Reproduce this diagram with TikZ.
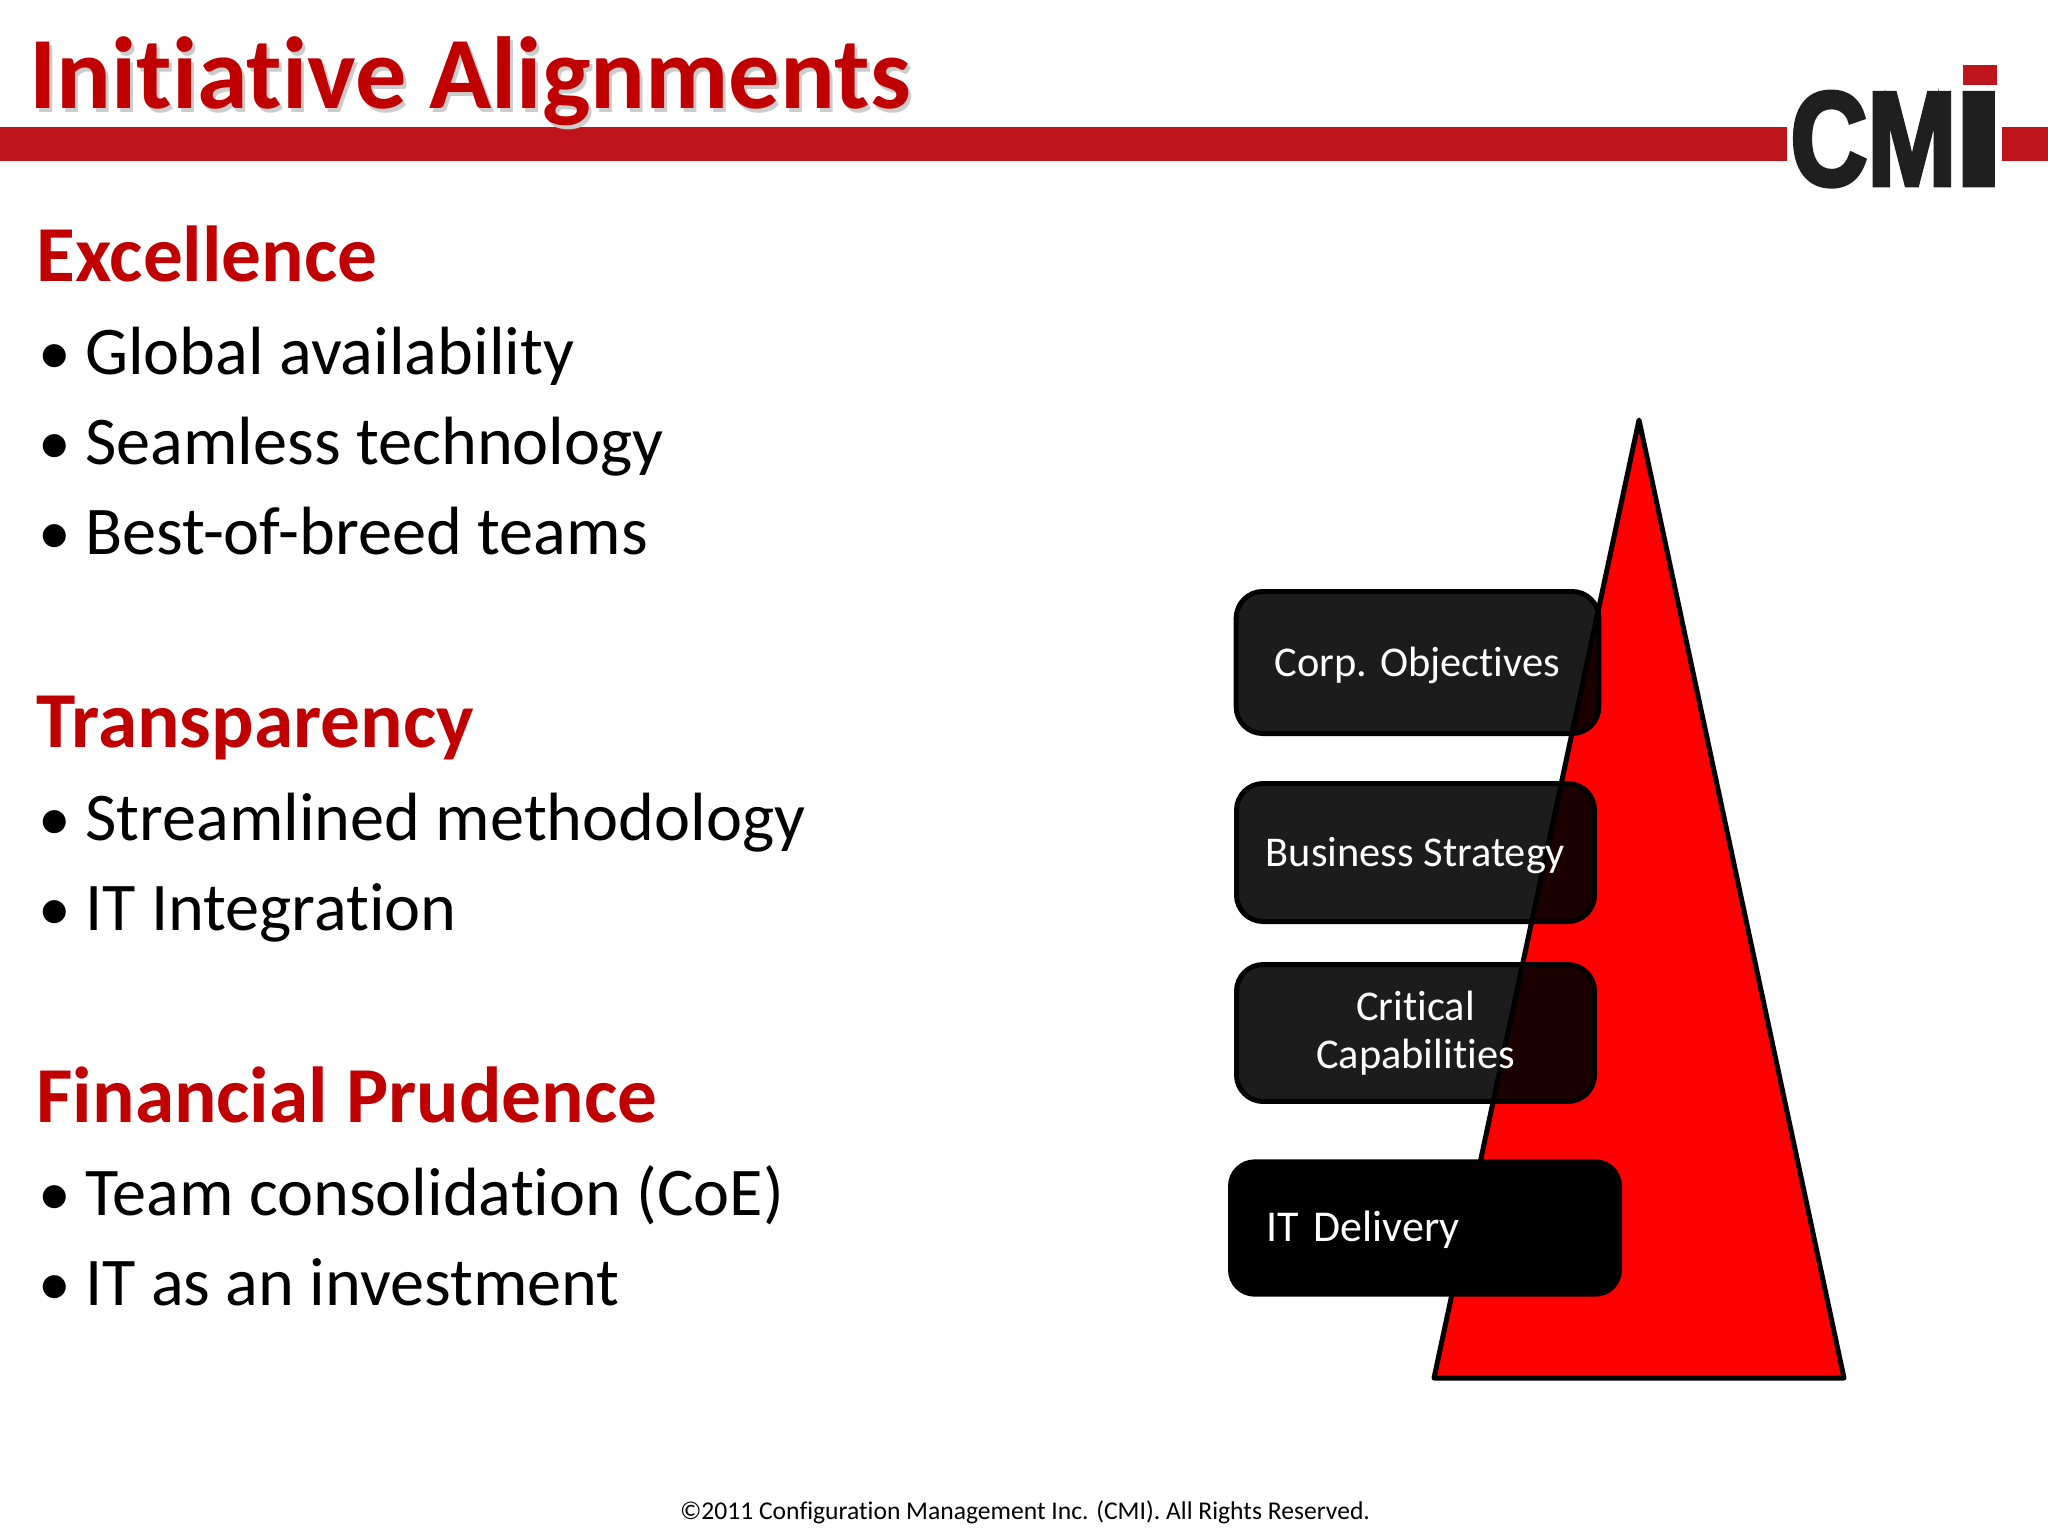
\documentclass[tikz,border=0pt]{standalone}
\usepackage{fontspec}
\setmainfont[Ligatures={NoCommon,NoRare,NoContextual}]{Carlito}
\newfontfamily\logofont[FakeBold=3.5]{Liberation Sans Bold}
\definecolor{cmired}{RGB}{192,0,0}
\definecolor{barred}{RGB}{192,20,28}
\newcommand{\bul}{\makebox[35pt][l]{\fontsize{49}{60}\selectfont •}}
\tikzset{every picture/.style={line width=0.75pt},
  pagetitle/.style={anchor=base west,inner sep=0,font=\fontsize{76.8}{90}\bfseries\selectfont},
  heading/.style={anchor=base west,inner sep=0,text=cmired,font=\fontsize{59.5}{70}\bfseries\selectfont},
  bullet/.style={anchor=base west,inner sep=0,font=\fontsize{51.2}{60}\selectfont},
  stagebox/.style={draw=black,line width=3.75pt,fill=black,fill opacity=0.89,text opacity=1,text=white,rounded corners=20pt,
    inner sep=0,align=center,font=\fontsize{31.8}{36}\selectfont},
  oneline/.style={text height=27pt},
  logotext/.style={anchor=base west,inner sep=0,text=black!88,font=\fontsize{100}{100}\logofont},
}
\begin{document}
\begin{tikzpicture}[x=0.75pt,y=0.75pt,yscale=-1,xscale=1]
\useasboundingbox (0,0) rectangle (2048,1536);

%Shape: Bar
\fill [barred] (0,127) rectangle (1787,161);
\fill [barred] (2002,127) rectangle (2048,161);

% Text Node
\node [pagetitle,text=black!20] (titleshadow) at (31.5,112) {Initiative Alignments};
\node [pagetitle,text=cmired] (title) at (28.5,108) {Initiative Alignments};

% Logo
\node [logotext,xscale=0.8] (logocm) at (1790,185) {CM};
\node [logotext,xscale=1.35] (logoi) at (1953,185) {I};
\fill [barred] (1963,65) rectangle (1997,85);

% Text Node
\node [heading] (excellence) at (36,281) {Excellence};
\node [bullet] (global) at (38,374) {\bul Global availability};
\node [bullet] (seamless) at (38,464) {\bul Seamless technology};
\node [bullet] (breed) at (38,554) {\bul Best-of-breed teams};

\node [heading] (transparency) at (36,747) {Transparency};
\node [bullet] (streamlined) at (38,840) {\bul Streamlined methodology};
\node [bullet] (integration) at (38,930) {\bul IT Integration};

\node [heading] (prudence) at (36,1122) {Financial Prudence};
\node [bullet] (team) at (38,1215) {\bul Team consolidation (CoE)};
\node [bullet] (invest) at (38,1305) {\bul IT as an investment};

%Shape: Triangle
\draw [fill=red,line width=3.75pt,line join=round] (1639,420) -- (1844,1378) -- (1434,1378) -- cycle;

%Shape: Rounded boxes
\node [stagebox,oneline,minimum width=272pt,minimum height=106.5pt] (objectives) at (1417.5,662.5) {Corp. Objectives};
\node [stagebox,oneline,minimum width=268.5pt,minimum height=103.5pt] (strategy) at (1415.5,852.5) {Business Strategy};
\node [stagebox,minimum width=268.5pt,minimum height=102.7pt] (capabilities) at (1415.5,1033) {Critical\\Capabilities};
\node [stagebox,draw=none,fill opacity=1,minimum width=295.5pt,minimum height=103pt,text width=238pt,align=left,text height=25pt,font=\fontsize{33}{36}\selectfont] (delivery) at (1425,1228) {IT Delivery};

% Text Node
\node [inner sep=0,anchor=base,font=\fontsize{19.2}{22}\selectfont] (footer) at (1025,1519) {©2011 Configuration Management Inc. (CMI). All Rights Reserved.};

\end{tikzpicture}
\end{document}
